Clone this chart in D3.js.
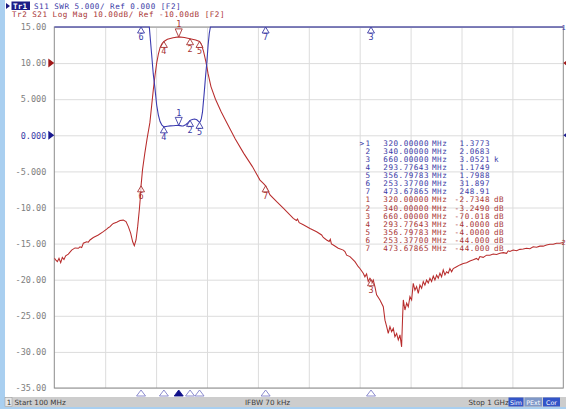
<!DOCTYPE html>
<html><head><meta charset="utf-8">
<script src="https://cdn.jsdelivr.net/npm/d3@7"></script>
<style>
html,body{margin:0;padding:0;background:#a9cff0;}
svg{display:block;}
text{font-family:"DejaVu Sans Mono","Liberation Mono",monospace;font-size:8.5px;}
.tbl text, .hdr text{font-size:7.6px;letter-spacing:0.5px;}
.status{font-family:"DejaVu Sans",sans-serif;font-size:7.2px;}
</style></head>
<body>
<script>
// ---------- data ----------
const freqDomain = [100, 1000];            // MHz
const xGridFreqs = [190, 280, 370, 460, 550, 640, 730, 820, 910];
const yTickValues = [15, 10, 5, 0, -5, -10, -15, -20, -25, -30, -35];
const yTickLabels = ["15.00","10.00","5.000","0.000","-5.000","-10.00","-15.00","-20.00","-25.00","-30.00","-35.00"];
const swrDomain = [-35, 15];
const dbDomain = [-100, 0];

const headerTr1 = "S11 SWR 5.000/ Ref 0.000 [F2]";
const headerTr2 = "Tr2 S21 Log Mag 10.00dB/ Ref -10.00dB [F2]";
const statusTexts = ["Start 100 MHz", "IFBW 70 kHz", "Stop 1 GHz"];
const statusButtons = ["Sim", "PExt", "Cor"];

const markerIds = ["1","2","3","4","5","6","7"];
const markerFreqs = [320.0, 340.0, 660.0, 293.77643, 356.79783, 253.377, 473.67865];
const markerSwr = [1.3773, 2.0683, 3052.1, 1.1749, 1.7988, 31.897, 248.91];
const markerS21 = [-2.7348, -3.2490, -70.018, -4.0, -4.0, -44.0, -44.0];

// S11 SWR trace [MHz, SWR]
const s11 = [[100,800],[200,120],[253.377,31.897],[265,17],[268,15.2],[272,11.3],[275,8.5],[278,6.5],[281,4.2],[284,2.8],[287,1.9],[290,1.45],[293.77643,1.1749],[300,1.25],[305,1.3],[310,1.32],[315,1.36],[320,1.3773],[325,1.3],[328,1.28],[333,1.5],[337,1.8],[340,2.0683],[344,2.2],[348,2.25],[352,2.15],[356.79783,1.7988],[358,1.9],[360,2.3],[362,3.2],[365,5.8],[367.5,8.2],[369.5,9.9],[372,12.5],[374,14.1],[376,16],[400,60],[473.67865,248.91],[660,3052.1],[800,2000],[1000,900]];

// S21 log mag trace [MHz, dB]
const s21 = [[100,-64.0],[102.4,-64.5],[105.4,-65.0],[108.3,-64.1],[111.3,-65.3],[114.2,-63.8],[117.1,-64.4],[120.1,-63.4],[124.8,-62.9],[130.7,-61.8],[136.6,-61.2],[142.5,-61.3],[145.4,-60.9],[148.4,-61.1],[151.3,-59.9],[157.2,-59.5],[160.2,-59.6],[163.1,-59.0],[169,-58.3],[177.8,-57.6],[186.7,-56.7],[192.6,-56.0],[195.5,-55.6],[198.5,-55.3],[201.4,-54.8],[204.4,-54.4],[210.3,-54.1],[216.2,-53.6],[222,-53.5],[226.8,-53.9],[230.9,-55.3],[235,-57.1],[238.6,-59.5],[241.5,-60.6],[244.5,-59],[247.4,-55.3],[250.3,-50.7],[252.7,-46.1],[253.377,-44],[256,-39.5],[260,-35],[264,-31],[269,-26.5],[272,-22],[275,-17.5],[278,-13.5],[281,-10],[284,-7.5],[287,-5.7],[290,-4.7],[293.77643,-4.0],[300,-3.4],[310,-2.95],[320,-2.7348],[330,-2.9],[340,-3.249],[350,-3.6],[356.79783,-4.0],[360,-4.8],[364,-6.8],[368,-9.6],[372,-13],[377,-16.5],[385,-20],[395,-23.5],[405,-26.5],[420,-31],[435,-35],[450,-38.6],[463.7,-42.4],[469.6,-43.3],[473.67865,-44],[481.4,-46.5],[493.2,-48.4],[504.9,-50.2],[522.6,-53.0],[528,-53.6],[530,-53.2],[533,-54.2],[540.3,-54.8],[552.1,-55.8],[563.8,-56.7],[572.7,-57.6],[575.6,-58.3],[581.5,-59],[586,-59.4],[588,-58.8],[590,-60.1],[593.3,-60.4],[602.1,-61.3],[611,-61.8],[613.9,-62.2],[616.9,-63.2],[622.8,-63.6],[631.6,-65],[637.5,-66.4],[640.4,-66.9],[646.3,-68.2],[649.2,-69.2],[652.2,-68.4],[655.1,-70.5],[658.1,-69.6],[660,-70.018],[661,-71],[664,-70.1],[666.9,-71.9],[669.9,-74.2],[675.8,-75.6],[681.7,-77.5],[684.7,-81.2],[687.7,-83],[690.5,-84.9],[693.5,-83.0],[696.4,-84.4],[699.4,-83.5],[702.3,-85.8],[705.3,-84.9],[708.2,-86.7],[711.2,-85.3],[714.1,-88.6],[715.9,-80.2],[717.1,-75.6],[720,-78.4],[723,-76.5],[725.9,-77.5],[728.8,-74.7],[731.8,-75.6],[734.7,-71.0],[737.7,-72.9],[740.6,-71.9],[743.6,-73.8],[746.5,-71.5],[749.5,-72.4],[752.4,-70.5],[755.3,-71.5],[758.3,-70.1],[761.2,-70.9],[764.2,-69.6],[767.1,-70.5],[770.1,-69.0],[773,-70.1],[776,-68.7],[778.9,-69.6],[781.9,-68.2],[784.8,-69.2],[787.7,-67.3],[790.7,-68.7],[793.6,-67.8],[796.6,-68.2],[799.5,-66.9],[802.5,-67.8],[805.4,-66.9],[811.3,-66.4],[817.2,-65.9],[823.1,-65.5],[829,-65.3],[834.9,-64.8],[840.8,-64.5],[846.6,-64.1],[849.6,-64.5],[852.5,-63.6],[858.4,-63.8],[864.3,-63.2],[870.2,-63.2],[876.1,-62.9],[882,-63.0],[887.9,-62.7],[893.8,-62.5],[899.7,-62.7],[902.6,-62.0],[905.6,-62.2],[911.4,-61.8],[917.3,-62.0],[923.2,-61.6],[929.1,-61.5],[935,-61.3],[940.9,-61.4],[946.8,-60.9],[952.7,-61.0],[958.6,-60.7],[964.5,-60.7],[970.4,-60.4],[976.3,-60.2],[982.2,-60.2],[988.1,-59.9],[994,-59.9],[1000,-59.7]];

// ---------- layout ----------
const W = 566, H = 409;
const L = 54.3, R = 563.3, T = 27, B = 388;
const BLUE = "#3b3bb0", RED = "#b82c2c", BLUE_T = "#3a3aa6", RED_T = "#a83434", GREY_T = "#808080";
const loc = d3.formatLocale({decimal:".", thousands:",", grouping:[3], currency:["",""], minus:"-"});

const svg = d3.select("body").append("svg").attr("width", W).attr("height", H);
svg.append("rect").attr("x",5).attr("y",0).attr("width",W-5).attr("height",397).attr("fill","#fff");

const x = d3.scaleLinear().domain(freqDomain).range([L, R]);
const ySwr = d3.scaleLinear().domain(swrDomain).range([B, T]).clamp(true);
const yDb = d3.scaleLinear().domain(dbDomain).range([B, T]).clamp(true);

// grid via axes
const gx = svg.append("g").attr("transform",`translate(0,${B})`)
  .call(d3.axisBottom(x).tickValues(xGridFreqs).tickSize(-(B-T)).tickFormat(""));
gx.select(".domain").remove();
gx.selectAll("line").attr("stroke","#dcdcdc");

const gy = svg.append("g").attr("transform",`translate(${L},0)`)
  .call(d3.axisLeft(ySwr).tickValues(yTickValues).tickSize(-(R-L)).tickPadding(8)
    .tickFormat((d,i)=>yTickLabels[i]));
gy.select(".domain").remove();
gy.selectAll("line").attr("stroke","#dcdcdc");
gy.selectAll("text").attr("fill",(d)=> d===0 ? BLUE_T : GREY_T)
  .style("font-family","DejaVu Sans Mono, monospace").style("font-size","8.5px");

svg.append("rect").attr("x",L).attr("y",T).attr("width",R-L).attr("height",B-T)
  .attr("fill","none").attr("stroke","#8c8c8c").attr("stroke-width",1);

// clip
svg.append("clipPath").attr("id","pc").append("rect")
  .attr("x",L).attr("y",T-1).attr("width",R-L).attr("height",B-T+2);

const lineS21 = d3.line().x(d=>x(d[0])).y(d=>yDb(d[1]));
const lineS11 = d3.line().x(d=>x(d[0])).y(d=>ySwr(d[1]));
svg.append("path").datum(s21).attr("d",lineS21).attr("fill","none")
  .attr("stroke",RED).attr("stroke-width",1.05).attr("clip-path","url(#pc)");
svg.append("path").datum(s11).attr("d",lineS11).attr("fill","none")
  .attr("stroke",BLUE).attr("stroke-width",1.1).attr("clip-path","url(#pc)");

// markers on traces
function drawMarkers(vals, yScale, color) {
  const g = svg.append("g");
  markerFreqs.forEach((f,i)=>{
    const px = x(f), py = yScale(vals[i]);
    if (i === 0) {
      g.append("path").attr("d",`M${px-3.5},${py-8}L${px+3.5},${py-8}L${px},${py}Z`)
        .attr("fill","#fff").attr("fill-opacity",0.6).attr("stroke",color).attr("stroke-width",0.9);
      g.append("text").attr("x",px).attr("y",py-9.5).attr("text-anchor","middle")
        .attr("fill",color).text(markerIds[i]);
    } else {
      g.append("path").attr("d",`M${px},${py}L${px+3.5},${py+6}L${px-3.5},${py+6}Z`)
        .attr("fill","#fff").attr("fill-opacity",0.6).attr("stroke",color).attr("stroke-width",0.9);
      g.append("text").attr("x",px).attr("y",py+13).attr("text-anchor","middle")
        .attr("fill",color).text(markerIds[i]);
    }
  });
}
drawMarkers(markerS21, yDb, RED_T);
drawMarkers(markerSwr, ySwr, BLUE_T);

// bottom marker indicators
markerFreqs.forEach((f,i)=>{
  const px = x(f);
  svg.append("path").attr("d",`M${px},${B+2}L${px+4.5},${B+8}L${px-4.5},${B+8}Z`)
    .attr("fill", i===0 ? "#10108a" : "#fff")
    .attr("stroke", i===0 ? "#10108a" : "#8080c8").attr("stroke-width",0.9);
});

// reference position arrows
function refArrow(yv, color) {
  svg.append("path").attr("d",`M${L-6},${yv-4.5}L${L},${yv}L${L-6},${yv+4.5}Z`).attr("fill",color);
  svg.append("path").attr("d",`M${R+6},${yv-4.5}L${R},${yv}L${R+6},${yv+4.5}Z`).attr("fill",color);
}
refArrow(yDb(-10), "#a01818");
refArrow(ySwr(0), "#1a1a90");

// trace end labels
svg.append("text").attr("x",561.5).attr("y",yDb(s21[s21.length-1][1])+2.5).attr("fill",RED_T).style("font-size","7px").text("2");
svg.append("text").attr("x",561.5).attr("y",T+2.5).attr("fill",BLUE_T).style("font-size","7px").text("1");

// header
const hg = svg.append("g").attr("class","hdr");
hg.append("path").attr("d","M6,3L10,6L6,9Z").attr("fill","#1a1a80");
hg.append("rect").attr("x",11.5).attr("y",1.5).attr("width",18.5).attr("height",8.5).attr("fill","#1c1c86");
hg.append("text").attr("x",13).attr("y",8.8).attr("fill","#fff").attr("font-weight","bold").style("letter-spacing","0.2px").text("Tr1");
hg.append("text").attr("x",34).attr("y",8.8).attr("fill",BLUE_T).attr("xml:space","preserve").text(headerTr1);
hg.append("text").attr("x",12).attr("y",17.3).attr("fill",RED_T).attr("xml:space","preserve").text(headerTr2);

// marker table
const fFmt = loc.format(".5f"), vFmt = loc.format(".5r");
const rows = [];
markerIds.forEach((id,i)=>{
  const v = markerSwr[i];
  rows.push({id, f: markerFreqs[i], val: v>=1000 ? vFmt(v/1000) : vFmt(v), unit: v>=1000 ? "k" : "", color: BLUE_T, active: i===0});
});
markerIds.forEach((id,i)=>{
  rows.push({id, f: markerFreqs[i], val: vFmt(markerS21[i]), unit: "dB", color: RED_T, active: false});
});
const tg = svg.append("g").attr("class","tbl");
rows.forEach((r,i)=>{
  const yb = 146 + i*8.07;
  if (r.active) tg.append("text").attr("x",359.5).attr("y",yb).attr("fill",r.color).text(">");
  tg.append("text").attr("x",370.5).attr("y",yb).attr("text-anchor","end").attr("fill",r.color).text(r.id);
  tg.append("text").attr("x",429).attr("y",yb).attr("text-anchor","end").attr("fill",r.color).text(fFmt(r.f));
  tg.append("text").attr("x",432).attr("y",yb).attr("fill",r.color).text("MHz");
  tg.append("text").attr("x",490).attr("y",yb).attr("text-anchor","end").attr("fill",r.color).text(r.val);
  tg.append("text").attr("x",494).attr("y",yb).attr("fill",r.color).text(r.unit);
});

// status bar
svg.append("rect").attr("x",5).attr("y",397).attr("width",W-5).attr("height",10).attr("fill","#cdcdcd");
svg.append("rect").attr("x",5).attr("y",397.5).attr("width",7).attr("height",9).attr("fill","#e6e6e6").attr("stroke","#9a9a9a").attr("stroke-width",0.5);
const st = svg.append("g");
st.append("text").attr("x",6.8).attr("y",405).attr("fill","#3c3c3c").attr("class","status").text("1");
st.append("text").attr("x",14.5).attr("y",405).attr("fill","#3c3c3c").attr("class","status").text(statusTexts[0]);
st.append("text").attr("x",245).attr("y",405).attr("fill","#3c3c3c").attr("class","status").text(statusTexts[1]);
st.append("text").attr("x",468.5).attr("y",405).attr("fill","#3c3c3c").attr("class","status").text(statusTexts[2]);
const btnX = [508.5, 524.5, 543], btnW = [15, 17.5, 17], btnC = ["#3355c8","#7f98c8","#3355c8"];
statusButtons.forEach((b,i)=>{
  svg.append("rect").attr("x",btnX[i]).attr("y",397.5).attr("width",btnW[i]).attr("height",9).attr("fill",btnC[i]);
  svg.append("text").attr("x",btnX[i]+btnW[i]/2).attr("y",404.6).attr("text-anchor","middle")
    .attr("fill","#fff").attr("class","status").style("font-size","6.3px").text(b);
});
</script>
</body></html>
